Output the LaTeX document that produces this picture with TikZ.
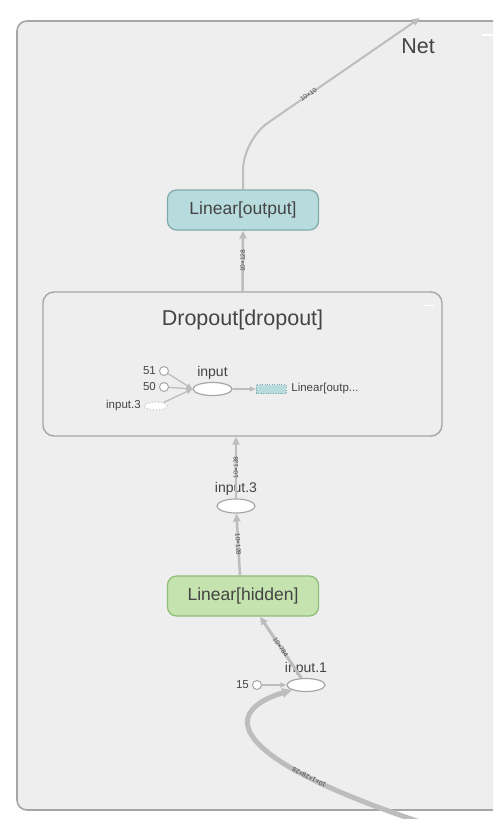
\documentclass[tikz,border=0pt]{standalone}
\usepackage{fontspec}
\setmainfont{Liberation Sans}
\usetikzlibrary{shapes.geometric, arrows.meta, positioning}
\usepackage{xcolor}
\definecolor{bgGray}{HTML}{EEEEEE}
\definecolor{boxLine}{HTML}{A6A6A6}
\definecolor{edgeGray}{HTML}{BDBDBD}
\definecolor{txtGray}{HTML}{444444}
\definecolor{outFill}{HTML}{B8DCDD}
\definecolor{outLine}{HTML}{7FAAAA}
\definecolor{hidFill}{HTML}{C4E3AF}
\definecolor{hidLine}{HTML}{8DBD76}
\tikzset{
    >={Triangle[length=8pt, width=7pt]},
    % Boxes
    groupBox/.style={rectangle, draw=boxLine, line width=1.6pt, fill=bgGray, rounded corners=10pt},
    linBox/.style={rectangle, line width=1.2pt, rounded corners=9pt,
                   minimum width=151pt, minimum height=40pt, text=txtGray, font=\fontsize{17.5}{20}\selectfont},
    outColor/.style={draw=outLine, fill=outFill},
    hidColor/.style={draw=hidLine, fill=hidFill},
    opNode/.style={ellipse, draw=boxLine, line width=1.2pt, fill=white,
                   minimum width=38pt, minimum height=14pt, inner sep=0pt},
    constNode/.style={circle, draw=boxLine, line width=1pt, fill=white, minimum size=9pt, inner sep=0pt},
    % Flow & Labels
    flow/.style={->, edgeGray, line width=2.5pt},
    thinFlow/.style={-{Triangle[length=6pt, width=5pt]}, edgeGray, line width=1.3pt},
    txt/.style={text=txtGray, inner sep=1pt},
    bigTxt/.style={txt, font=\fontsize{21.5}{24}\selectfont},
    midTxt/.style={txt, font=\fontsize{14}{15}\selectfont},
    smallTxt/.style={txt, font=\fontsize{11.5}{12}\selectfont},
    lbl/.style={font=\fontsize{6.5}{7}\selectfont, text=txtGray, inner sep=0pt, sloped}
}

\begin{document}
\begin{tikzpicture}[x=1pt, y=-1pt]
\useasboundingbox (0,0) rectangle (493,819);
\clip (0,0) rectangle (493,819);
\fill[white] (0,0) rectangle (493,819);

% Net group
\node[groupBox, minimum width=510pt, minimum height=789pt] (net) at (272,415.5) {};
\node[bigTxt] (netLbl) at (418,46) {Net};
\draw[white, line width=1.5pt] (482,35) -- (493,35);

% Dropout group
\node[groupBox, line width=1.4pt, rounded corners=11pt,
      minimum width=399pt, minimum height=144pt] (drop) at (242.5,364) {};
\node[bigTxt, below=17pt of drop.north] (dropLbl) {Dropout[dropout]};
\draw[white, line width=1.5pt] ([xshift=-19pt, yshift=-14pt]drop.north east) -- ++(10,0);

\node[opNode, minimum width=39pt, minimum height=13pt] (inp) at (212.5,389) {};
\node[midTxt, above=1pt of inp] (inpLbl) {input};
\node[constNode] (c51) at (164,371) {};
\node[constNode] (c50) at (164,387) {};
\node[opNode, draw=boxLine!60, dotted, minimum width=23pt, minimum height=8pt] (in3ref) at (156,406) {};
\node[smallTxt, left=2pt of c51] (c51Lbl) {51};
\node[smallTxt, left=2pt of c50] (c50Lbl) {50};
\node[smallTxt, left=2pt of in3ref] (in3refLbl) {input.3};
\node[rectangle, draw=outLine, dotted, fill=outFill, minimum width=30pt, minimum height=9pt,
      inner sep=0pt] (outRef) at (271,389) {};
\node[smallTxt, right=4pt of outRef] (outRefLbl) {Linear[outp...};

\draw[thinFlow] (c51) -- (inp.west);
\draw[thinFlow] (c50) -- (inp.west);
\draw[thinFlow] (in3ref) -- (inp.west);
\draw[thinFlow] (inp) -- (outRef);

% Layers and ops
\node[linBox, outColor] (lout) at (243,210) {Linear[output]};
\node[linBox, hidColor] (lhid) at (243,596) {Linear[hidden]};
\node[opNode] (in3) at (236,506) {};
\node[midTxt, above=2pt of in3] (in3Lbl) {input.3};
\node[opNode, minimum height=13pt] (in1) at (306,685) {};
\node[midTxt, above=1pt of in1] (in1Lbl) {input.1};
\node[constNode] (c15) at (257,685) {};
\node[smallTxt, left=2pt of c15] (c15Lbl) {15};

\coordinate (netOut) at (420,18);
\coordinate (netIn) at (432,826);

% Edges
\draw[flow, line width=2pt, rounded corners=30pt] (lout.north) -- (243,140)
    -- node[lbl, pos=0.37] {10×10} (netOut);
\draw[flow] (drop.north) -- node[lbl] {10×128} (lout.south);
\draw[flow] (in3) -- node[lbl] {10×128} (in3 |- drop.south);
\draw[flow] ([xshift=-3pt]lhid.north) -- node[lbl] {10×128} (in3);
\draw[flow, line width=3pt] (in1) -- node[lbl] {10×784} ([xshift=17pt]lhid.south);
\draw[thinFlow] (c15) -- (in1);
\draw[edgeGray, line width=5pt, -{Triangle[length=10pt, width=9pt]}] (netIn)
    .. controls (215,755) and (225,710) .. node[lbl, pos=0.25, allow upside down] {10×1×28×28} (in1.south west);

\end{tikzpicture}
\end{document}
